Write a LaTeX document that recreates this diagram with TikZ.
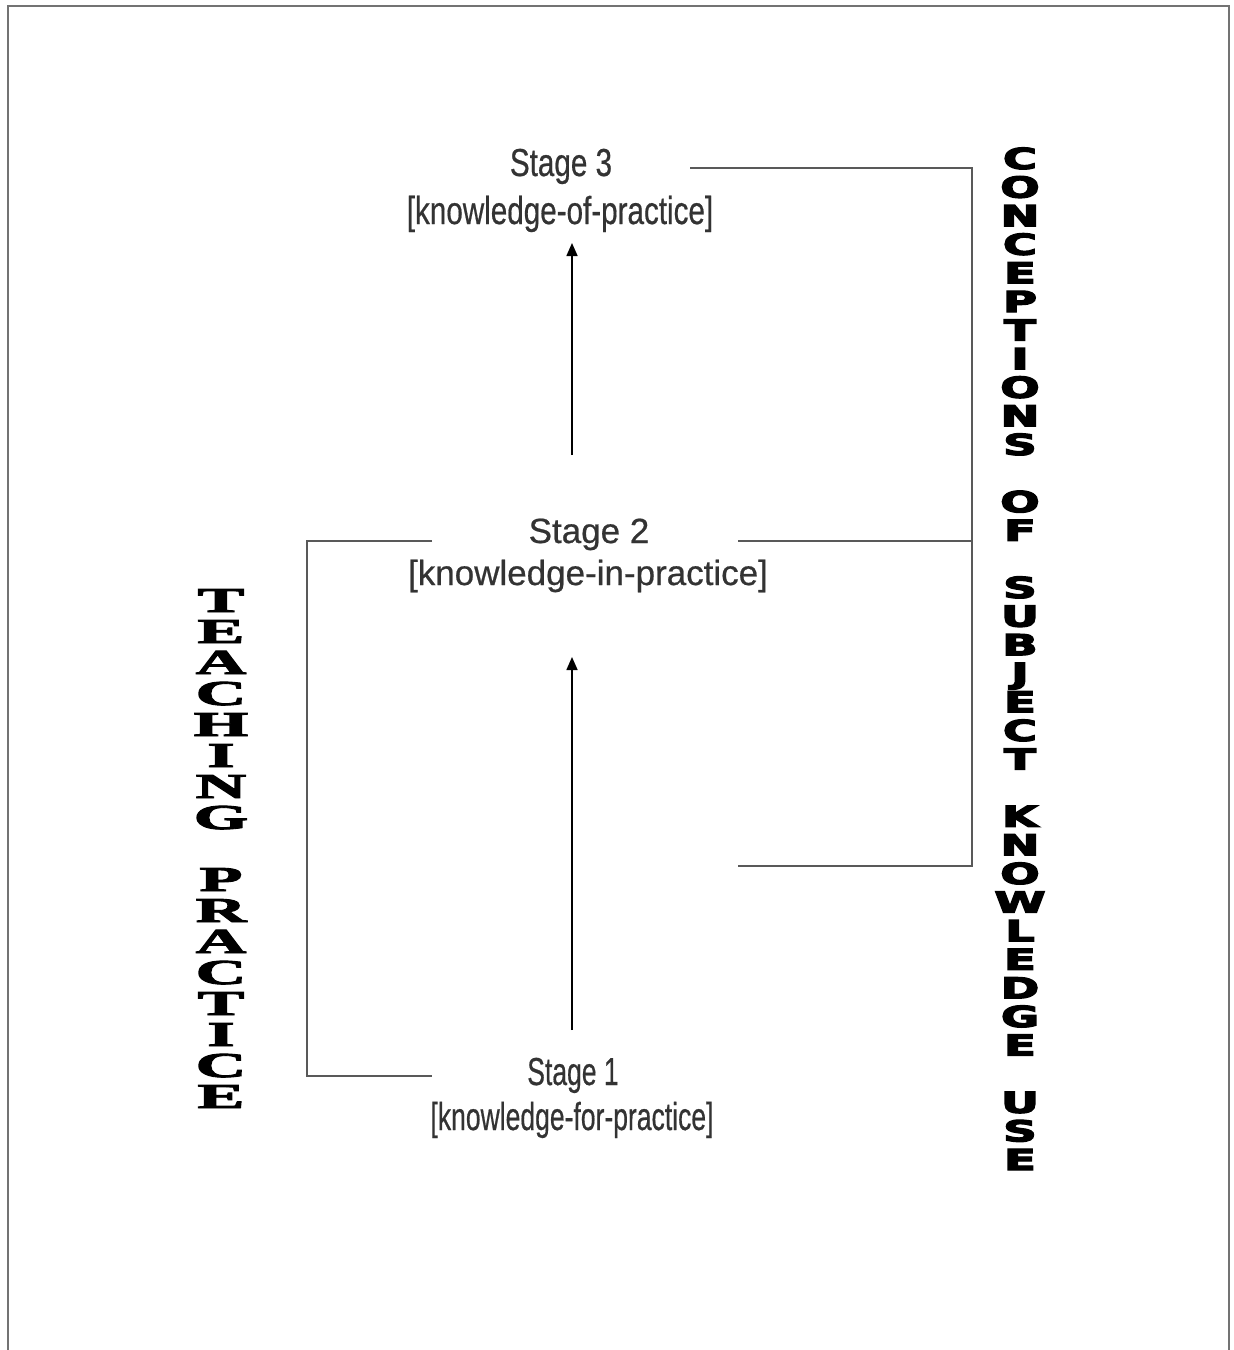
\documentclass[tikz,border=0pt]{standalone}
\usepackage{fontspec}
\setmainfont{Liberation Sans}
\newfontfamily\stagefont[FakeBold=0.6]{Liberation Sans}
\newfontfamily\tpfont[FakeBold=2.5]{Liberation Serif}
\newfontfamily\csfont[FakeBold=4]{DejaVu Sans}
\usetikzlibrary{arrows.meta}
\begin{document}
\begin{tikzpicture}[x=1pt,y=-1pt,
  conn/.style={draw=black!65, line width=1.6pt},
  uparrow/.style={draw=black, line width=1.6pt, -{Triangle[width=11pt,length=13pt]}},
  stagetext/.style={text=black!80, anchor=base, inner sep=0pt},
  tpletter/.style={font=\tpfont\bfseries\fontsize{35}{35}\selectfont, xscale=2, anchor=base, inner sep=0pt, text height=24pt, text depth=0pt},
  csletter/.style={font=\csfont\bfseries\fontsize{29}{29}\selectfont, xscale=1.6, anchor=base, inner sep=0pt, text height=22pt, text depth=0pt}]
\useasboundingbox (0,0) rectangle (1234,1350);
% frame
\draw[black!55, line width=2.2pt] (8,1360) -- (8,6) -- (1229,6) -- (1229,1360);
% stages
\node[stagetext, font=\stagefont\fontsize{39}{39}\selectfont, xscale=0.76] (s3) at (561,176) {Stage 3};
\node[stagetext, font=\stagefont\fontsize{39}{39}\selectfont, xscale=0.76] (s3k) at (560,224) {[knowledge-of-practice]};
\node[stagetext, font=\stagefont\fontsize{35}{35}\selectfont] (s2) at (589,543) {Stage 2};
\node[stagetext, font=\stagefont\fontsize{35}{35}\selectfont] (s2k) at (588,585) {[knowledge-in-practice]};
\node[stagetext, font=\stagefont\fontsize{39}{39}\selectfont, xscale=0.68] (s1) at (573,1085) {Stage 1};
\node[stagetext, font=\stagefont\fontsize{39}{39}\selectfont, xscale=0.68] (s1k) at (572,1130) {[knowledge-for-practice]};
% connector coordinates
\coordinate (r3) at (690,168);
\coordinate (rc3) at (972,168);
\coordinate (r2) at (738,541);
\coordinate (rc2) at (972,541);
\coordinate (rb) at (738,866);
\coordinate (rcb) at (972,866);
\coordinate (l2) at (432,541);
\coordinate (lc2) at (307,541);
\coordinate (lc1) at (307,1076);
\coordinate (l1) at (432,1076);
\coordinate (a2b) at (572,455);
\coordinate (a2t) at (572,243);
\coordinate (a1b) at (572,1030);
\coordinate (a1t) at (572,657);
\draw[conn] (r3) -- (rc3) -- (rcb) -- (rb);
\draw[conn] (r2) -- (rc2);
\draw[conn] (l2) -- (lc2) -- (lc1) -- (l1);
\draw[uparrow] (a2b) -- (a2t);
\draw[uparrow] (a1b) -- (a1t);
% TEACHING PRACTICE
\foreach \l [count=\i from 0] in {T,E,A,C,H,I,N,G}
  \node[tpletter] (tpa\i) at (221,612+31*\i) {\l};
\foreach \l [count=\i from 0] in {P,R,A,C,T,I,C,E}
  \node[tpletter] (tpb\i) at (221,891+31*\i) {\l};
% CONCEPTIONS OF SUBJECT KNOWLEDGE USE
\foreach \l [count=\i from 0] in {C,O,N,C,E,P,T,I,O,N,S}
  \node[csletter] (csa\i) at (1020,169+28.6*\i) {\l};
\foreach \l [count=\i from 12] in {O,F}
  \node[csletter] (csb\i) at (1020,169+28.6*\i) {\l};
\foreach \l [count=\i from 15] in {S,U,B,J,E,C,T}
  \node[csletter] (csc\i) at (1020,169+28.6*\i) {\l};
\foreach \l [count=\i from 23] in {K,N,O,W,L,E,D,G,E}
  \node[csletter] (csd\i) at (1020,169+28.6*\i) {\l};
\foreach \l [count=\i from 33] in {U,S,E}
  \node[csletter] (cse\i) at (1020,169+28.6*\i) {\l};
\end{tikzpicture}
\end{document}
